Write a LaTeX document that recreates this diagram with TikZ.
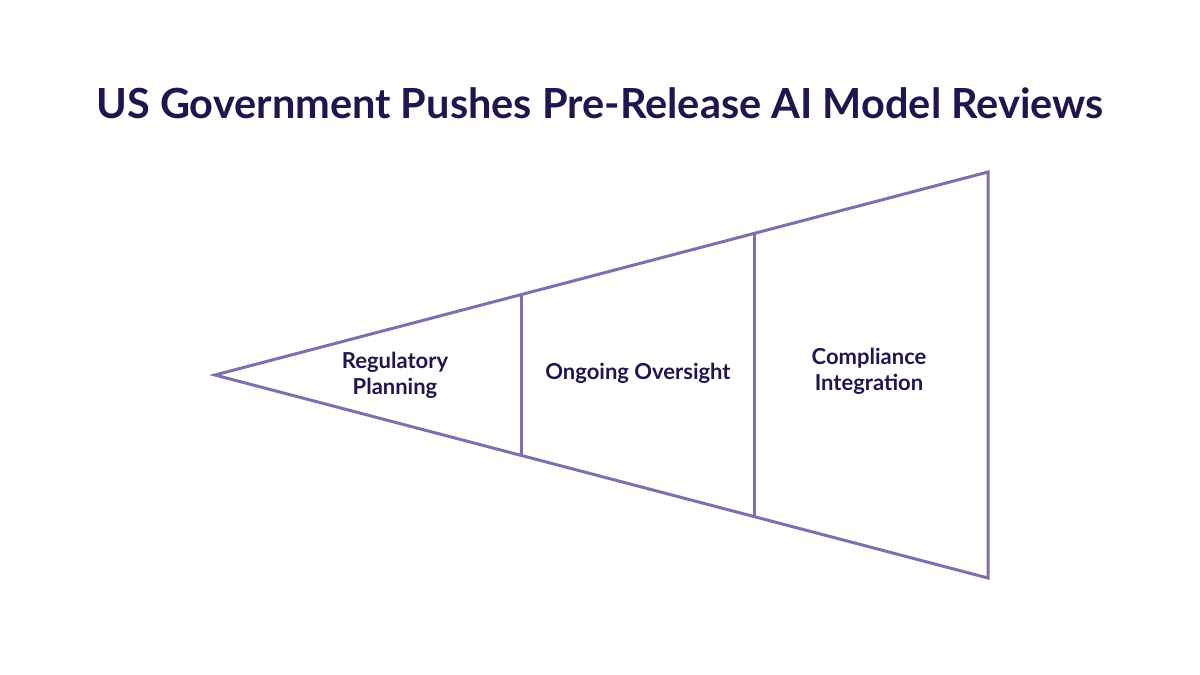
\documentclass[tikz,border=0pt]{standalone}
\usepackage{fontspec}
\setmainfont{Lato}
\begin{document}
\begin{tikzpicture}[x=1pt,y=-1pt,
  edge/.style={draw=lineC,line width=3pt,line join=miter},
  lab/.style={font=\bfseries\fontsize{22}{26}\selectfont,text=navy,align=center}]
\definecolor{lineC}{HTML}{7B70B0}
\definecolor{navy}{HTML}{1E1650}
\useasboundingbox[fill=white] (0,0) rectangle (1200,675);
\node[font=\bfseries\fontsize{41.5}{48}\selectfont,text=navy] (title) at (600,103) {US Government Pushes Pre-Release AI Model Reviews};
\coordinate (apex) at (215,375);
\coordinate (tr) at (988,172);
\coordinate (br) at (988,578);
\coordinate (t1) at (521,294.6);
\coordinate (b1) at (521,455.4);
\coordinate (t2) at (754,233.5);
\coordinate (b2) at (754,516.5);
\draw[edge] (apex) -- (tr) -- (br) -- cycle;
\draw[edge] (t1) -- (b1);
\draw[edge] (t2) -- (b2);
\node[lab] (l1) at (395,375) {Regulatory\\Planning};
\node[lab] (l2) at (638,373) {Ongoing Oversight};
\node[lab] (l3) at (869,371) {Compliance\\Integration};
\end{tikzpicture}
\end{document}
